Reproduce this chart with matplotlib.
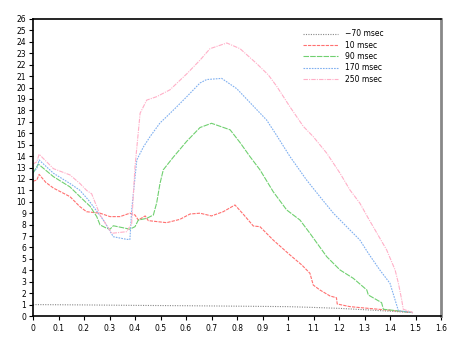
import matplotlib
matplotlib.use("Agg")
import matplotlib.pyplot as plt

labels = ["\u221270 msec", "10 msec", "90 msec", "170 msec", "250 msec"]

x_m70 = [0, 0.2, 0.4, 0.6, 0.8, 1.0, 1.1, 1.2, 1.3, 1.4, 1.49]
y_m70 = [1.0, 0.97, 0.93, 0.9, 0.86, 0.82, 0.75, 0.67, 0.55, 0.42, 0.3]

x_10 = [0, 0.015, 0.024, 0.05, 0.08, 0.145, 0.184, 0.21, 0.263, 0.302, 0.341, 0.38, 0.4,
        0.413, 0.44, 0.452, 0.524, 0.576, 0.616, 0.655, 0.70, 0.746, 0.792, 0.825, 0.864,
        0.89, 0.942, 1.008, 1.054, 1.086, 1.099, 1.125, 1.165, 1.19, 1.193, 1.243, 1.3,
        1.4, 1.49]
y_10 = [11.8, 11.9, 12.4, 11.7, 11.2, 10.45, 9.57, 9.13, 9.0, 8.7, 8.7, 9.0, 8.84,
        8.4, 8.76, 8.35, 8.17, 8.46, 8.93, 9.0, 8.76, 9.13, 9.72, 8.9, 7.88,
        7.82, 6.65, 5.34, 4.47, 3.74, 2.71, 2.28, 1.75, 1.6, 1.05, 0.82, 0.7,
        0.5, 0.3]

x_90 = [0, 0.021, 0.08, 0.145, 0.184, 0.224, 0.25, 0.263, 0.289, 0.302, 0.315, 0.38,
        0.4, 0.413, 0.446, 0.472, 0.485, 0.498, 0.511, 0.55, 0.603, 0.655, 0.70, 0.773,
        0.812, 0.851, 0.89, 0.942, 0.995, 1.047, 1.086, 1.152, 1.204, 1.256, 1.309,
        1.315, 1.367, 1.374, 1.43, 1.49]
y_90 = [12.5, 13.3, 12.2, 11.3, 10.45, 9.6, 8.7, 7.97, 7.68, 7.6, 7.9, 7.6,
        7.82, 8.4, 8.55, 8.84, 9.9, 11.6, 12.8, 13.9, 15.3, 16.5, 16.87, 16.3,
        15.18, 13.95, 12.8, 10.88, 9.28, 8.4, 7.24, 5.19, 4.03, 3.3, 2.28,
        1.84, 1.17, 0.59, 0.45, 0.3]

x_170 = [0, 0.015, 0.024, 0.08, 0.145, 0.184, 0.217, 0.276, 0.315, 0.367, 0.38, 0.387,
         0.407, 0.433, 0.459, 0.498, 0.524, 0.563, 0.603, 0.655, 0.681, 0.74, 0.799,
         0.916, 0.95, 1.008, 1.073, 1.125, 1.178, 1.23, 1.282, 1.315, 1.36, 1.4, 1.42,
         1.433, 1.49]
y_170 = [12.6, 12.9, 13.66, 12.5, 11.6, 11.0, 10.16, 8.4, 6.94, 6.71, 6.7, 9.28,
         13.66, 14.8, 15.7, 16.9, 17.45, 18.3, 19.2, 20.4, 20.7, 20.8, 19.9,
         17.16, 16.0, 13.95, 11.9, 10.45, 9.0, 7.82, 6.65, 5.49, 4.03, 2.86, 1.4,
         0.46, 0.3]

x_250 = [0, 0.015, 0.024, 0.08, 0.145, 0.184, 0.21, 0.23, 0.263, 0.309, 0.367, 0.387,
         0.4, 0.42, 0.446, 0.485, 0.537, 0.603, 0.655, 0.694, 0.76, 0.812, 0.877, 0.923,
         0.956, 1.008, 1.06, 1.099, 1.152, 1.204, 1.243, 1.282, 1.315, 1.387, 1.42,
         1.433, 1.446, 1.452, 1.49]
y_250 = [13.3, 13.5, 14.16, 12.9, 12.35, 11.6, 11.0, 10.7, 8.84, 7.24, 7.38, 8.1,
         13.07, 17.75, 18.9, 19.2, 19.8, 21.2, 22.4, 23.4, 23.9, 23.4, 22.1, 21.1,
         20.1, 18.3, 16.6, 15.7, 14.25, 12.5, 11.03, 9.87, 8.55, 5.78, 4.03,
         2.86, 1.4, 0.59, 0.3]

x_ticks = [0, 0.1, 0.2, 0.3, 0.4, 0.5, 0.6, 0.7, 0.8, 0.9, 1, 1.1, 1.2, 1.3, 1.4, 1.5, 1.6]
x_ticklabels = ["0", "0.1", "0.2", "0.3", "0.4", "0.5", "0.6", "0.7", "0.8", "0.9",
                "1", "1.1", "1.2", "1.3", "1.4", "1.5", "1.6"]
y_ticks = list(range(0, 27))

fig = plt.figure(figsize=(4.63, 3.42), dpi=100)
ax = fig.add_axes([33 / 463, 26 / 342, (441 - 33) / 463, (316 - 19) / 342])

series = [
    (x_m70, y_m70, "#888888", (0, (1, 1.2))),
    (x_10, y_10, "#ff7070", (0, (3, 1))),
    (x_90, y_90, "#70d070", (0, (5, 1))),
    (x_170, y_170, "#80b0f0", (0, (1.5, 1))),
    (x_250, y_250, "#ffb0c8", (0, (4, 1, 1, 1))),
]
for (xs, ys, c, ls), lab in zip(series, labels):
    ax.plot(xs, ys, color=c, linestyle=ls, linewidth=0.8, label=lab)

ax.set_xlim(0, 1.6)
ax.set_ylim(0, 26)
ax.set_xticks(x_ticks)
ax.set_xticklabels(x_ticklabels)
ax.set_yticks(y_ticks)
ax.tick_params(axis="both", direction="out", length=3, width=0.8, labelsize=5.5, pad=2)
ax.tick_params(axis="x", pad=3)

for s in ["left", "bottom", "top"]:
    ax.spines[s].set_color("black")
    ax.spines[s].set_linewidth(1.2)
ax.spines["right"].set_color("#888888")
ax.spines["right"].set_linewidth(2)

leg = ax.legend(loc="upper left", bbox_to_anchor=(0.655, 0.975), frameon=False,
                fontsize=5.5, handlelength=4.5, handletextpad=0.9, labelspacing=0.3,
                borderaxespad=0)

fig.savefig("out.png", dpi=100)
